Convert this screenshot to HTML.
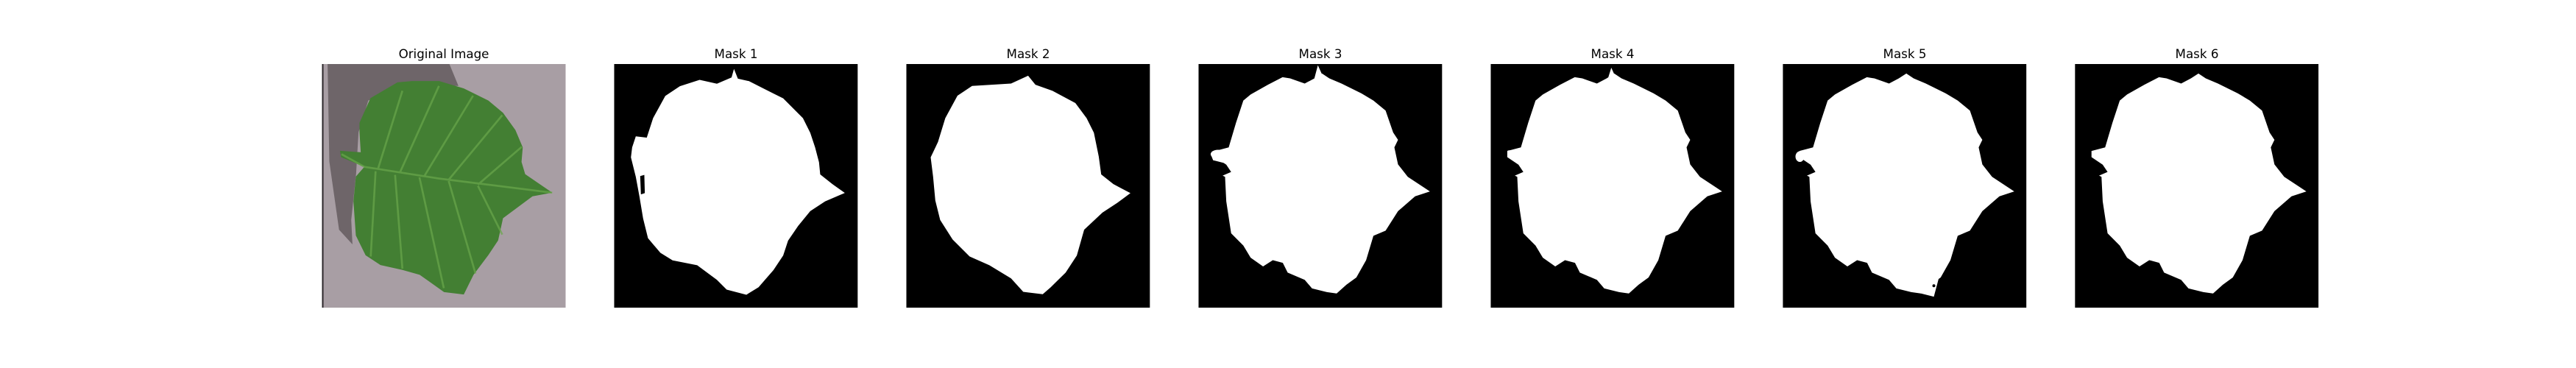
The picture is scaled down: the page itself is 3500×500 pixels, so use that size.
<!DOCTYPE html>
<html><head><meta charset="utf-8">
<style>
html,body{margin:0;padding:0;background:#fff;}
svg{display:block;}
text{font-family:"DejaVu Sans","Liberation Sans",sans-serif;font-size:16.7px;fill:#000;}
</style></head>
<body>
<svg width="3500" height="500" viewBox="0 0 3500 500">
<defs>
<path id="m1" d="M492,20 L508,60 L553,70 L614,101 L694,141 L775,222 L805,282 L825,342 L841,403 L846,453 L896,493 L947,529 L866,564 L805,604 L755,665 L714,725 L694,786 L654,846 L593,916 L543,947 L462,926 L422,886 L341,826 L240,806 L190,775 L139,715 L119,634 L104,544 L89,463 L69,383 L74,342 L89,297 L134,302 L160,222 L210,131 L270,91 L351,65 L422,81 L482,55 Z"/>
<path id="m6" d="M68,357 L124,342 L154,241 L184,150 L214,125 L285,85 L345,54 L376,59 L436,80 L476,59 L507,39 L537,59 L587,80 L668,120 L718,150 L768,191 L799,281 L819,311 L804,342 L819,412 L859,463 L950,523 L889,543 L819,604 L768,684 L718,705 L688,805 L648,876 L607,906 L567,942 L527,936 L466,921 L436,886 L366,856 L346,816 L305,805 L265,831 L214,795 L184,745 L134,695 L114,564 L109,463 L99,458 L134,443 L114,413 L68,382 Z"/>
</defs>

<!-- Original image -->
<text x="603" y="79" text-anchor="middle">Original Image</text>
<svg x="437.5" y="87" width="331" height="331" viewBox="0 0 1000 1000" preserveAspectRatio="none">
<rect x="0" y="0" width="1000" height="1000" fill="#a89ea4"/>
<rect x="0" y="0" width="6" height="1000" fill="#2a2528"/>
<path d="M23,0 L523,0 L560,90 L320,90 L190,150 L150,280 L140,450 L120,640 L125,740 L70,680 L30,400 Z" fill="#6e6569"/>
<path d="M154,241 L199,140 L310,75 L370,70 L481,70 L582,100 L683,150 L743,200 L794,271 L824,342 L819,402 L834,452 L945,528 L864,543 L743,633 L723,724 L683,784 L622,865 L582,946 L501,936 L401,865 L330,845 L240,825 L179,785 L139,704 L129,563 L139,462 L174,422 L78,382 L74,356 L159,362 L154,281 Z" fill="#437f33"/>
<g stroke="#6aa84c" stroke-width="8" fill="none" opacity="0.7">
<path d="M80,370 L174,422 L480,470 L945,528"/>
<path d="M230,430 L330,110"/><path d="M320,445 L480,90"/><path d="M420,460 L620,130"/>
<path d="M520,475 L740,210"/><path d="M640,495 L820,340"/>
<path d="M220,440 L200,790"/><path d="M300,455 L330,840"/><path d="M400,465 L500,920"/>
<path d="M520,480 L630,860"/><path d="M640,500 L740,700"/>
</g>
</svg>

<!-- Mask 1 -->
<text x="1000" y="79" text-anchor="middle">Mask 1</text>
<svg x="834.4" y="87" width="331" height="331" viewBox="0 0 1000 1000" preserveAspectRatio="none">
<rect width="1000" height="1000" fill="#000"/>
<use href="#m1" fill="#fff"/>
<path d="M107,460 L124,455 L126,530 L110,535 Z" fill="#000"/>
</svg>

<!-- Mask 2 -->
<text x="1397" y="79" text-anchor="middle">Mask 2</text>
<svg x="1231.4" y="87" width="331" height="331" viewBox="0 0 1000 1000" preserveAspectRatio="none">
<rect width="1000" height="1000" fill="#000"/>
<path d="M500,48 L530,85 L600,110 L694,160 L740,222 L770,282 L790,380 L800,453 L850,493 L920,530 L866,570 L805,610 L730,680 L700,786 L654,856 L593,916 L560,945 L480,935 L430,880 L341,826 L260,790 L190,720 L139,640 L119,560 L110,463 L100,383 L130,320 L160,222 L210,130 L270,90 L351,85 L430,80 Z" fill="#fff"/>
</svg>

<!-- Mask 3 -->
<text x="1794" y="79" text-anchor="middle">Mask 3</text>
<svg x="1628.4" y="87" width="331" height="331" viewBox="0 0 1000 1000" preserveAspectRatio="none">
<rect width="1000" height="1000" fill="#000"/>
<use href="#m6" fill="#fff"/>
<path d="M490,5 L515,60 L470,80 Z" fill="#fff"/>
<ellipse cx="80" cy="370" rx="30" ry="18" fill="#fff"/>
<path d="M120,360 L50,370 L60,395 L120,410 Z" fill="#fff"/>
</svg>

<!-- Mask 4 -->
<text x="2191" y="79" text-anchor="middle">Mask 4</text>
<svg x="2025.4" y="87" width="331" height="331" viewBox="0 0 1000 1000" preserveAspectRatio="none">
<rect width="1000" height="1000" fill="#000"/>
<use href="#m6" fill="#fff"/>
<path d="M495,15 L520,70 L475,80 Z" fill="#fff"/>
<path d="M120,350 L70,355 L75,385 L120,400 Z" fill="#fff"/>
</svg>

<!-- Mask 5 -->
<text x="2588" y="79" text-anchor="middle">Mask 5</text>
<svg x="2422.3" y="87" width="331" height="331" viewBox="0 0 1000 1000" preserveAspectRatio="none">
<rect width="1000" height="1000" fill="#000"/>
<use href="#m6" fill="#fff"/>
<ellipse cx="70" cy="380" rx="18" ry="22" fill="#fff"/>
<path d="M560,900 L640,880 L620,955 L560,940 Z" fill="#fff"/>
<circle cx="620" cy="910" r="6" fill="#000"/>
</svg>

<!-- Mask 6 -->
<text x="2985" y="79" text-anchor="middle">Mask 6</text>
<svg x="2819.2" y="87" width="331" height="331" viewBox="0 0 1000 1000" preserveAspectRatio="none">
<rect width="1000" height="1000" fill="#000"/>
<use href="#m6" fill="#fff"/>
</svg>
</svg>
</body></html>
